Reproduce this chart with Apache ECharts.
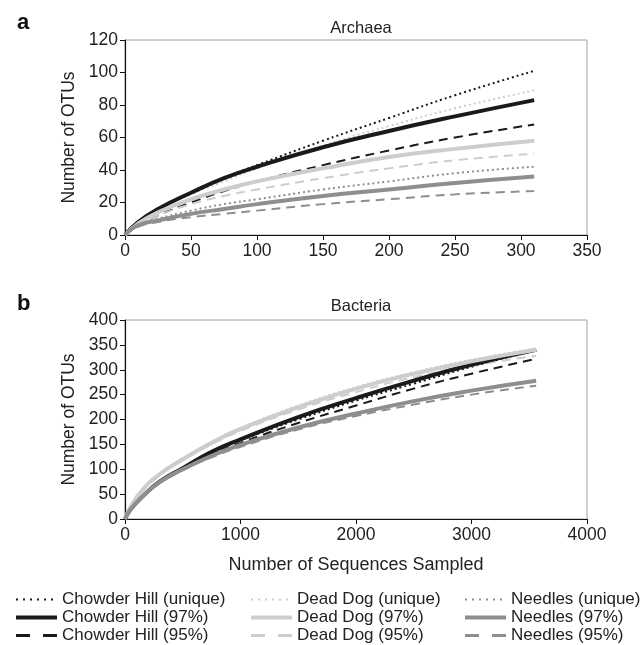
<!DOCTYPE html>
<html><head><meta charset="utf-8">
<script src="https://cdn.jsdelivr.net/npm/echarts@6/dist/echarts.min.js"></script>
<style>html,body{margin:0;padding:0;background:#fff}#c{width:644px;height:645px}</style>
</head><body><div id="c"></div>
<script>
// Archaea rarefaction
const archaeaX = [0, 10, 25, 50, 75, 100, 150, 200, 250, 310];
const archaeaChowderUnique = [0, 8, 16, 26, 35, 43, 58, 72, 86, 101];
const archaeaChowder97     = [0, 8, 16, 26, 35, 42, 54, 64, 73, 83];
const archaeaChowder95     = [0, 6, 12, 20, 27, 33, 43, 52, 60, 68];
const archaeaDeadDogUnique = [0, 7, 15, 25, 33, 41, 55, 67, 78, 89];
const archaeaDeadDog97     = [0, 7, 14, 22, 28, 33, 41, 48, 53, 58];
const archaeaDeadDog95     = [0, 6, 12, 19, 24, 28, 35, 41, 46, 50];
const archaeaNeedlesUnique = [0, 6, 10, 15, 19, 22, 28, 33, 38, 42];
const archaeaNeedles97     = [0, 6, 9, 13, 16, 19, 24, 28, 32, 36];
const archaeaNeedles95     = [0, 5, 8, 11, 13, 15, 19, 22, 25, 27];

// Bacteria rarefaction
const bacteriaX = [0, 50, 150, 300, 500, 750, 1000, 1500, 2000, 2500, 3000, 3560];
const bacteriaChowderUnique = [0, 20, 45, 75, 102, 133, 158, 200, 238, 272, 306, 339];
const bacteriaChowder97     = [0, 20, 45, 75, 102, 135, 160, 205, 243, 278, 310, 340];
const bacteriaChowder95     = [0, 20, 44, 73, 100, 130, 153, 193, 228, 262, 292, 322];
const bacteriaDeadDogUnique = [0, 25, 60, 92, 122, 155, 183, 228, 265, 295, 320, 343];
const bacteriaDeadDog97     = [0, 25, 58, 90, 120, 153, 181, 225, 262, 292, 317, 340];
const bacteriaDeadDog95     = [0, 24, 56, 88, 118, 150, 177, 220, 255, 285, 308, 328];
const bacteriaNeedlesUnique = [0, 20, 45, 74, 100, 128, 150, 185, 213, 238, 259, 279];
const bacteriaNeedles97     = [0, 20, 45, 74, 100, 127, 149, 184, 212, 237, 258, 278];
const bacteriaNeedles95     = [0, 19, 44, 72, 98, 124, 145, 180, 207, 230, 250, 268];

const seriesNames = [
  'Chowder Hill (unique)', 'Chowder Hill (97%)', 'Chowder Hill (95%)',
  'Dead Dog (unique)', 'Dead Dog (97%)', 'Dead Dog (95%)',
  'Needles (unique)', 'Needles (97%)', 'Needles (95%)'
];
const archaeaData = [archaeaChowderUnique, archaeaChowder97, archaeaChowder95,
  archaeaDeadDogUnique, archaeaDeadDog97, archaeaDeadDog95,
  archaeaNeedlesUnique, archaeaNeedles97, archaeaNeedles95];
const bacteriaData = [bacteriaChowderUnique, bacteriaChowder97, bacteriaChowder95,
  bacteriaDeadDogUnique, bacteriaDeadDog97, bacteriaDeadDog95,
  bacteriaNeedlesUnique, bacteriaNeedles97, bacteriaNeedles95];

const siteColors = ['#1a1a1a', '#cdcdcd', '#8e8e8e'];
const styles = [
  {type: [2, 3], width: 2},
  {type: 'solid', width: 4},
  {type: [9, 6], width: 2}
];
const legendLineStyles = [
  {type: [2, 5], width: 2},
  {type: 'solid', width: 4},
  {type: [14, 13], width: 3}
];

const FONT = 'Liberation Sans';
const series = [];
function addSeries(xs, dataArr, gi) {
  dataArr.forEach((vals, i) => {
    const site = Math.floor(i / 3), st = styles[i % 3];
    series.push({
      name: seriesNames[i], type: 'line', xAxisIndex: gi, yAxisIndex: gi,
      data: xs.map((x, k) => [x, vals[k]]), smooth: true,
      symbol: 'none',
      lineStyle: {color: siteColors[site], width: st.width, type: st.type},
      itemStyle: {color: siteColors[site]},
      z: i % 3 === 1 ? 3 : 2
    });
  });
}
addSeries(archaeaX, archaeaData, 0);
addSeries(bacteriaX, bacteriaData, 1);

const axisCommon = {
  axisLine: {show: true, lineStyle: {color: '#111', width: 1.2}},
  axisTick: {show: true, inside: false, length: 5, lineStyle: {color: '#111'}},
  axisLabel: {color: '#222', fontSize: 17.5, fontFamily: FONT, margin: 7},
  splitLine: {show: false}
};

function legendCol(left, start) {
  return {
    left: left, top: 591, orient: 'vertical', itemWidth: 41, itemHeight: 14, itemGap: 1,
    padding: 0, selectedMode: false,
    data: seriesNames.slice(start, start + 3).map((n, k) => ({
      name: n,
      lineStyle: {width: legendLineStyles[k].width, type: legendLineStyles[k].type}
    })),
    itemStyle: {opacity: 0, borderWidth: 0},
    textStyle: {fontSize: 17, fontFamily: FONT, color: '#222'}
  };
}

const chart = echarts.init(document.getElementById('c'));
chart.setOption({
  animation: false,
  backgroundColor: '#fff',
  title: [
    {text: 'a', left: 12, top: 7, textStyle: {fontSize: 22, fontWeight: 'bold', fontFamily: FONT, color: '#111'}},
    {text: 'Archaea', left: 356, top: 15, textAlign: 'center', textStyle: {fontSize: 16.5, fontWeight: 'normal', fontFamily: FONT, color: '#222'}},
    {text: 'b', left: 12, top: 288, textStyle: {fontSize: 22, fontWeight: 'bold', fontFamily: FONT, color: '#111'}},
    {text: 'Bacteria', left: 356, top: 293, textAlign: 'center', textStyle: {fontSize: 16.5, fontWeight: 'normal', fontFamily: FONT, color: '#222'}}
  ],
  grid: [
    {left: 125, top: 40, width: 462, height: 195, show: true, borderColor: '#a0a0a0', borderWidth: 1},
    {left: 125, top: 320, width: 462, height: 199, show: true, borderColor: '#a0a0a0', borderWidth: 1}
  ],
  xAxis: [
    Object.assign({type: 'value', gridIndex: 0, min: 0, max: 350, interval: 50}, axisCommon),
    Object.assign({type: 'value', gridIndex: 1, min: 0, max: 4000, interval: 1000,
      name: 'Number of Sequences Sampled', nameLocation: 'middle', nameGap: 37,
      nameTextStyle: {fontSize: 18, fontFamily: FONT, color: '#222'}}, axisCommon,
      {axisLabel: {color: '#222', fontSize: 17.5, fontFamily: FONT, margin: 7, formatter: v => String(v)}})
  ],
  yAxis: [
    Object.assign({type: 'value', gridIndex: 0, min: 0, max: 120, interval: 20,
      name: 'Number of OTUs', nameLocation: 'middle', nameGap: 40, nameRotate: 90,
      nameTextStyle: {fontSize: 17.5, fontFamily: FONT, color: '#222'}}, axisCommon),
    Object.assign({type: 'value', gridIndex: 1, min: 0, max: 400, interval: 50,
      name: 'Number of OTUs', nameLocation: 'middle', nameGap: 40, nameRotate: 90,
      nameTextStyle: {fontSize: 17.5, fontFamily: FONT, color: '#222'}}, axisCommon)
  ],
  legend: [
    legendCol(14, 0),
    legendCol(249, 3),
    legendCol(463, 6)
  ],
  series: series
});
</script></body></html>
